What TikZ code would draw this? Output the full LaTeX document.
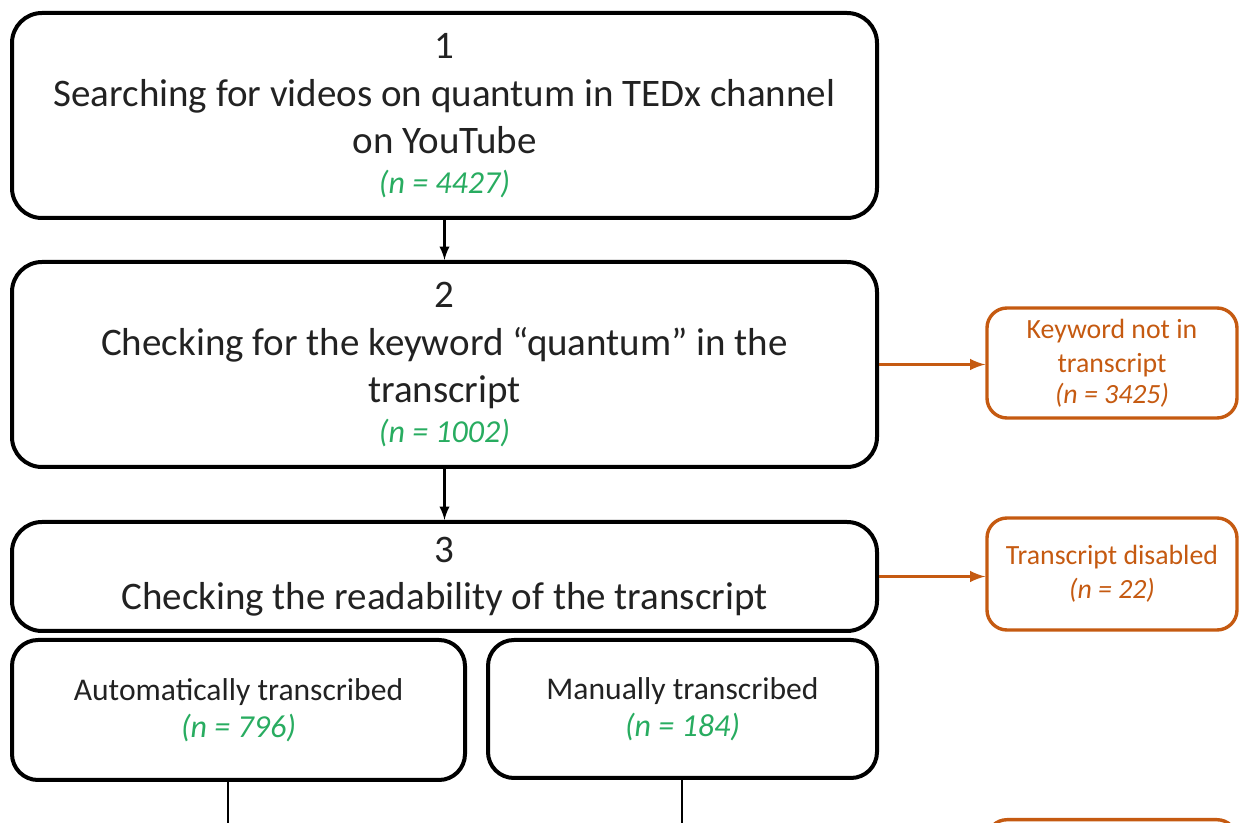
\documentclass[tikz,border=0pt]{standalone}
\usepackage{fontspec}
\setmainfont{Carlito}
\usepackage{xcolor}
\usetikzlibrary{arrows,positioning,calc}
\definecolor{countgreen}{RGB}{40,172,96}
\definecolor{dropout}{RGB}{197,90,17}
\definecolor{inktext}{RGB}{34,34,34}

\begin{document}
\begin{tikzpicture}[x=0.5pt, y=-0.5pt,
        stage/.style={draw=black, line width=2pt, rounded corners=15pt, align=center,
            text=inktext, font=\fontsize{19.5}{23.75}\selectfont, inner sep=0pt},
        branch/.style={stage, font=\fontsize{15.8}{18.5}\selectfont, rounded corners=13pt},
        excluded/.style={draw=dropout, line width=1.7pt, rounded corners=10pt, align=center,
            text=dropout, font=\fontsize{13.9}{17}\selectfont, inner sep=0pt,
            minimum width=125pt},
        flow/.style={line width=1.3pt, -latex},
        drop/.style={draw=dropout, line width=1.6pt, -latex}]
    \useasboundingbox (0,0) rectangle (1239,823);
    \clip (0,0) rectangle (1239,823);

    \node[stage, minimum width=432.5pt, minimum height=102.5pt] (search) at (444.5,115.5)
        {1\\Searching for videos on quantum in TEDx channel\\on YouTube\\[-4pt]{\color{countgreen}\fontsize{16}{16}\selectfont\itshape (n = 4427)}};
    \node[stage, minimum width=432.5pt, minimum height=102.5pt] (keyword) at (444.5,364.5)
        {2\\Checking for the keyword “quantum” in the\\transcript\\[-4pt]{\color{countgreen}\fontsize{16}{16}\selectfont\itshape (n = 1002)}};
    \node[stage, minimum width=432.5pt, minimum height=54.5pt] (readable) at (444.5,576.5)
        {3\\Checking the readability of the transcript};

    \node[branch, minimum width=226.5pt, minimum height=70pt] (auto) at (238.5,710)
        {Automatically transcribed\\{\color{countgreen}\fontsize{16}{18.5}\selectfont\itshape (n = 796)}};
    \node[branch, minimum width=194.5pt, minimum height=69pt] (manual) at (682.5,709)
        {Manually transcribed\\{\color{countgreen}\fontsize{16}{18.5}\selectfont\itshape (n = 184)}};

    \node[excluded, minimum height=55pt] (nokey) at (1112,363)
        {Keyword not in\\transcript\\[-1.5pt]{\itshape (n = 3425)}};
    \node[excluded, minimum height=56pt] (disabled) at (1112,574)
        {Transcript disabled\\{\itshape (n = 22)}};
    \node[excluded, minimum height=56pt, anchor=north] (nextout) at (1112,818) {};

    \draw[flow] (search) -- (keyword);
    \draw[flow] (keyword) -- (readable);
    \draw[drop] (keyword.east) -- (keyword.east -| nokey.west);
    \draw[drop] (readable.east) -- (readable.east -| disabled.west);

    \coordinate (autoend) at (228,860);
    \coordinate (manualend) at (682,860);
    \draw[line width=1.3pt] (auto.south -| autoend) -- (autoend);
    \draw[line width=1.3pt] (manual.south -| manualend) -- (manualend);
\end{tikzpicture}
\end{document}
